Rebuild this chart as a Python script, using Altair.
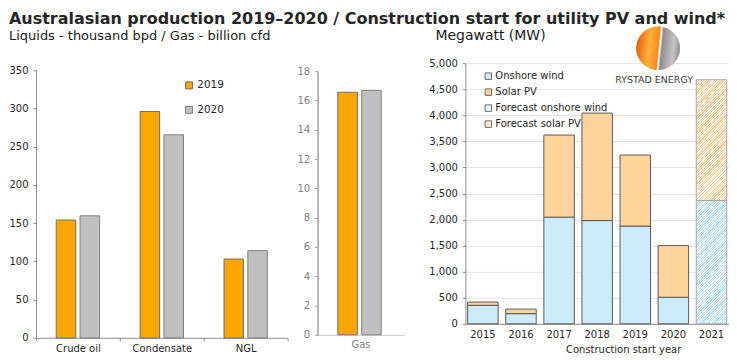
import altair as alt
import pandas as pd

FONT = "DejaVu Sans"

TITLE = "Australasian production 2019\u20132020 / Construction start for utility PV and wind*"
LEFT_SUB = "Liquids - thousand bpd / Gas - billion cfd"
RIGHT_SUB = "Megawatt (MW)"
LOGO_TEXT = "RYSTAD ENERGY"
X_TITLE = "Construction start year"

# ---- production data ----
prod_years = ["2019", "2020"]
liquid_categories = ["Crude oil", "Condensate", "NGL"]
liquids_2019 = [154, 296, 103]
liquids_2020 = [159.5, 265.5, 114]
gas_categories = ["Gas"]
gas_2019 = [16.56]
gas_2020 = [16.69]

# ---- construction start data ----
start_years = ["2015", "2016", "2017", "2018", "2019", "2020", "2021"]
onshore_wind = [355, 195, 2046, 1980, 1875, 509, 2365]
solar_pv = [62, 87, 1575, 2062, 1363, 991, 2317]
forecast_years = ["2021"]
pv_series = ["Onshore wind", "Solar PV", "Forecast onshore wind", "Forecast solar PV"]

ORANGE, GREY = "#FFA500", "#C0C0C0"
WIND, SOLAR = "#CCECFB", "#FDD59C"
WIND_HATCH, SOLAR_HATCH = "#A9DBF3", "#FBC68A"
PALE_WIND, PALE_SOLAR = "#EAF6FD", "#FEEBD2"

liq_df = pd.DataFrame(
    [{"category": c, "year": "2019", "value": v} for c, v in zip(liquid_categories, liquids_2019)]
    + [{"category": c, "year": "2020", "value": v} for c, v in zip(liquid_categories, liquids_2020)]
)
gas_df = pd.DataFrame(
    [{"category": c, "year": "2019", "value": v} for c, v in zip(gas_categories, gas_2019)]
    + [{"category": c, "year": "2020", "value": v} for c, v in zip(gas_categories, gas_2020)]
)
rows = []
for y, w, s in zip(start_years, onshore_wind, solar_pv):
    fc = y in forecast_years
    rows.append({"year": y, "series": pv_series[2] if fc else pv_series[0], "value": w, "order": 0})
    rows.append({"year": y, "series": pv_series[3] if fc else pv_series[1], "value": s, "order": 1})
pv_df = pd.DataFrame(rows)
one = pd.DataFrame({"k": [0]})

# panel geometry (flush layout: panels sit side by side, tops aligned)
W1, H1, TOP1 = 252, 275, 7
GAP2, BAND2, W2, H2, TOP2 = 30, 87, 178, 272, 8
W3, H3 = 264, 261
YMAX3 = 5000


def hatch(color, w, h, period=2.6, duty=0.45, s=1.25):
    r = w / h
    L = h * (1 + r * r) * s
    n = int(L / period) + 1
    stops = []
    for i in range(n):
        a = min(i * period / L, 1)
        b = min((i * period + duty * period) / L, 1)
        c = min((i + 1) * period / L, 1)
        stops += [{"offset": a, "color": color}, {"offset": b, "color": color},
                  {"offset": b, "color": "#FFFFFF"}, {"offset": c, "color": "#FFFFFF"}]
    return {"gradient": "linear", "x1": 0, "y1": 0, "x2": r * s, "y2": s, "stops": stops}


step3 = W3 / (len(start_years) - 0.2 + 2 * 0.06)
bw3 = step3 * 0.8
fi = start_years.index(forecast_years[0])
grad_wind = hatch(WIND_HATCH, bw3, onshore_wind[fi] * H3 / YMAX3)
grad_solar = hatch(SOLAR_HATCH, bw3, solar_pv[fi] * H3 / YMAX3)

globe = {"gradient": "linear", "x1": 0, "y1": 0.45, "x2": 1, "y2": 0.55,
         "stops": [{"offset": 0, "color": "#E2600E"}, {"offset": 0.3, "color": "#FFB23A"},
                   {"offset": 0.5, "color": "#F28A1E"}, {"offset": 0.54, "color": "#FFFFFF"},
                   {"offset": 0.58, "color": "#8E8E8E"}, {"offset": 0.85, "color": "#C4C4C4"},
                   {"offset": 1, "color": "#8A8A8A"}]}

yr_fill = alt.Scale(domain=prod_years, range=[ORANGE, GREY])
yr_stroke = alt.Scale(domain=prod_years, range=["#6E6E6E", "#7F7F7F"])
xoff = alt.XOffset("year:N", scale=alt.Scale(paddingInner=0.18, paddingOuter=0.85))

# ---- left: liquids ----
liq = alt.Chart(liq_df).mark_bar(strokeWidth=1).encode(
    x=alt.X("category:N", sort=liquid_categories, scale=alt.Scale(paddingInner=0, paddingOuter=0),
            axis=alt.Axis(title=None, labelAngle=0, tickBand="extent", tickSize=3, labelPadding=3,
                          domainColor="#8C8C8C", tickColor="#8C8C8C", labelColor="#262626")),
    xOffset=xoff,
    y=alt.Y("value:Q", scale=alt.Scale(domain=[0, 350], nice=False, range=[H1, TOP1]),
            axis=alt.Axis(title=None, values=list(range(0, 351, 50)), grid=False, tickSize=3,
                          labelPadding=5, domainColor="#8C8C8C", tickColor="#8C8C8C",
                          labelColor="#262626")),
    fill=alt.Fill("year:N", scale=yr_fill,
                  legend=alt.Legend(title=None, orient="none", legendX=148, legendY=17,
                                    symbolType="square", symbolSize=49, symbolStrokeColor="#6E6E6E",
                                    symbolStrokeWidth=1, labelFontSize=10.5, labelColor="#262626",
                                    rowPadding=12.5, labelOffset=3, padding=0)),
    stroke=alt.Stroke("year:N", scale=yr_stroke, legend=None),
)
left_sub = alt.Chart(one).mark_text(text=LEFT_SUB, align="left", baseline="alphabetic", fontSize=13,
                                     font=FONT, color="#1A1A1A").encode(x=alt.value(-27), y=alt.value(-23))
left = alt.layer(liq, left_sub).properties(width=W1, height=H1)

# ---- middle: gas ----
gas = alt.Chart(gas_df).mark_bar(strokeWidth=1).encode(
    x=alt.X("category:N", scale=alt.Scale(paddingInner=0, paddingOuter=0, range=[GAP2, GAP2 + BAND2]),
            axis=alt.Axis(title=None, labelAngle=0, ticks=False, labelPadding=5,
                          domainColor="#C8C8C8", labelColor="#808080")),
    xOffset=xoff,
    y=alt.Y("value:Q", scale=alt.Scale(domain=[0, 18], nice=False, range=[H2, TOP2]),
            axis=alt.Axis(title=None, values=list(range(0, 19, 2)), grid=False, tickSize=3,
                          labelPadding=5, domainColor="#A0A0A0", domainWidth=1.5, offset=-GAP2,
                          tickColor="#A0A0A0", labelColor="#808080")),
    fill=alt.Fill("year:N", scale=yr_fill, legend=None),
    stroke=alt.Stroke("year:N", scale=yr_stroke, legend=None),
)
middle = gas.properties(width=W2, height=H2)

# ---- right: construction start ----
is_fw = "datum.series === 'Forecast onshore wind'"
is_fs = "datum.series === 'Forecast solar PV'"
pv = alt.Chart(pv_df).mark_bar(strokeWidth=1).encode(
    x=alt.X("year:N", sort=start_years, scale=alt.Scale(paddingInner=0.2, paddingOuter=0.06),
            axis=alt.Axis(title=X_TITLE, labelAngle=0, ticks=False, labelPadding=6,
                          domainColor="#8C8C8C", labelColor="#262626", titleFontWeight="normal",
                          titleFontSize=10, titleColor="#262626", titleX=158, titleY=29,
                          titleAlign="center", titleBaseline="alphabetic")),
    y=alt.Y("value:Q", stack="zero", scale=alt.Scale(domain=[0, YMAX3], nice=False),
            axis=alt.Axis(title=None, values=list(range(0, YMAX3 + 1, 500)), format=",.0f", grid=True,
                          gridColor="#E3E3E3", tickSize=3, labelPadding=5, domainColor="#8C8C8C",
                          tickColor="#8C8C8C", labelColor="#262626")),
    fill=alt.Fill("series:N",
                  scale=alt.Scale(domain=pv_series, range=[WIND, SOLAR, PALE_WIND, PALE_SOLAR]),
                  legend=alt.Legend(title=None, orient="none", legendX=18, legendY=8,
                                    symbolType="square", symbolSize=42, symbolStrokeColor="#6A6A6A",
                                    symbolStrokeWidth=1, labelFontSize=10, labelColor="#262626",
                                    rowPadding=4, labelOffset=2, padding=0),
                  condition=[{"test": is_fw, "value": grad_wind}, {"test": is_fs, "value": grad_solar}]),
    stroke=alt.condition("indexof(datum.series, 'Forecast') === 0", alt.value("#A6A6A6"), alt.value("#5A5A5A")),
    order=alt.Order("order:Q"),
)
right_sub = alt.Chart(one).mark_text(text=RIGHT_SUB, align="left", baseline="alphabetic", fontSize=14,
                                      font=FONT, color="#1A1A1A").encode(x=alt.value(-30), y=alt.value(-23))
logo = alt.Chart(one).mark_point(shape="circle", filled=True, size=1936, fill=globe, opacity=1,
                                 strokeWidth=0).encode(x=alt.value(193), y=alt.value(-15))
logo_txt = alt.Chart(one).mark_text(text=LOGO_TEXT, align="center", baseline="alphabetic", fontSize=9.5,
                                     font=FONT, color="#404040").encode(x=alt.value(189), y=alt.value(20))
right = alt.layer(pv, right_sub, logo, logo_txt).properties(width=W3, height=H3)

chart = alt.hconcat(left, middle, right, spacing=0, bounds="flush").resolve_scale(
    fill="independent", stroke="independent", x="independent", y="independent"
).resolve_legend(fill="independent", stroke="independent").properties(
    title=alt.Title(TITLE, anchor="start", font=FONT, fontSize=16, fontWeight="bold",
                    color="#262626", offset=-1),
    padding={"top": 3, "left": 0, "right": 0, "bottom": 0},
).configure_view(stroke=None).configure_axis(
    labelFont=FONT, titleFont=FONT, labelFontSize=10
).configure_legend(labelFont=FONT).configure_text(font=FONT)

chart.save("out.html", embed_options={"renderer": "svg", "actions": False})
